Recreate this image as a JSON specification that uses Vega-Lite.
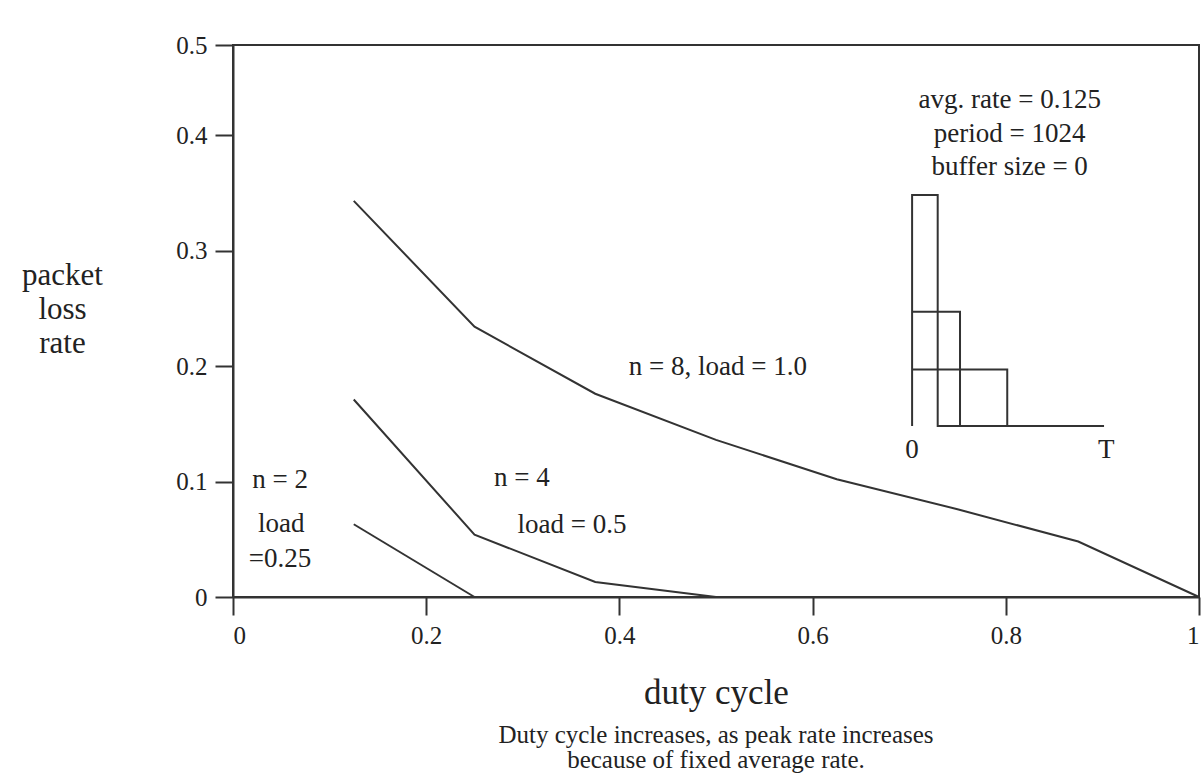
{
  "$schema": "https://vega.github.io/schema/vega-lite/v6.json",
  "width": 966,
  "height": 552,
  "autosize": {"type": "none"},
  "padding": {"left": 233, "top": 45, "right": 5, "bottom": 182},
  "background": "white",
  "config": {
    "font": "Liberation Serif",
    "view": {"stroke": "#333", "strokeWidth": 2},
    "axis": {"grid": false, "domainColor": "#333", "domainWidth": 2, "tickColor": "#333", "tickWidth": 2, "tickSize": 18, "labelFont": "Liberation Serif", "labelFontSize": 25, "labelColor": "#222", "titleFont": "Liberation Serif", "titleColor": "#222", "titleFontWeight": "normal"}
  },
  "title": {
    "text": ["Duty cycle increases, as peak rate increases", "because of fixed average rate."],
    "orient": "bottom",
    "anchor": "middle",
    "offset": 13,
    "font": "Liberation Serif",
    "fontSize": 25,
    "fontWeight": "normal",
    "lineHeight": 25,
    "color": "#222"
  },
  "datasets": {
    "curves": [
      {"series": "n=8", "duty": 0.125, "loss": 0.343},
      {"series": "n=8", "duty": 0.25, "loss": 0.234},
      {"series": "n=8", "duty": 0.375, "loss": 0.176},
      {"series": "n=8", "duty": 0.5, "loss": 0.136},
      {"series": "n=8", "duty": 0.625, "loss": 0.102},
      {"series": "n=8", "duty": 0.75, "loss": 0.076},
      {"series": "n=8", "duty": 0.875, "loss": 0.048},
      {"series": "n=8", "duty": 1.0, "loss": 0.0},
      {"series": "n=4", "duty": 0.125, "loss": 0.171},
      {"series": "n=4", "duty": 0.25, "loss": 0.054},
      {"series": "n=4", "duty": 0.375, "loss": 0.013},
      {"series": "n=4", "duty": 0.5, "loss": 0.0},
      {"series": "n=2", "duty": 0.125, "loss": 0.063},
      {"series": "n=2", "duty": 0.25, "loss": 0.0}
    ],
    "inset": [
      {"path": "p1", "ord": 1, "duty": 0.703, "loss": 0.148},
      {"path": "p1", "ord": 2, "duty": 0.703, "loss": 0.348},
      {"path": "p1", "ord": 3, "duty": 0.7295, "loss": 0.348},
      {"path": "p1", "ord": 4, "duty": 0.7295, "loss": 0.148},
      {"path": "p1", "ord": 5, "duty": 0.9017, "loss": 0.148},
      {"path": "p2", "ord": 1, "duty": 0.703, "loss": 0.247},
      {"path": "p2", "ord": 2, "duty": 0.7526, "loss": 0.247},
      {"path": "p2", "ord": 3, "duty": 0.7526, "loss": 0.148},
      {"path": "p3", "ord": 1, "duty": 0.703, "loss": 0.197},
      {"path": "p3", "ord": 2, "duty": 0.8015, "loss": 0.197},
      {"path": "p3", "ord": 3, "duty": 0.8015, "loss": 0.148}
    ],
    "labels": [
      {"duty": 0.502, "loss": 0.199, "label": "n = 8, load = 1.0"},
      {"duty": 0.299, "loss": 0.103, "label": "n = 4"},
      {"duty": 0.351, "loss": 0.062, "label": "load = 0.5"},
      {"duty": 0.0487, "loss": 0.101, "label": "n = 2"},
      {"duty": 0.05, "loss": 0.063, "label": "load"},
      {"duty": 0.0487, "loss": 0.033, "label": "=0.25"},
      {"duty": 0.804, "loss": 0.439, "label": "avg. rate = 0.125"},
      {"duty": 0.804, "loss": 0.401, "label": "period = 1024"},
      {"duty": 0.804, "loss": 0.372, "label": "buffer size = 0"},
      {"duty": 0.703, "loss": 0.127, "label": "0"},
      {"duty": 0.904, "loss": 0.127, "label": "T"}
    ]
  },
  "encoding": {
    "x": {
      "field": "duty", "type": "quantitative",
      "scale": {"domain": [0, 1], "nice": false, "zero": false},
      "axis": {"values": [0, 0.2, 0.4, 0.6, 0.8, 1], "format": ".1~f", "labelPadding": 8, "title": "duty cycle", "titleFontSize": 35, "titlePadding": 27}
    },
    "y": {
      "field": "loss", "type": "quantitative",
      "scale": {"domain": [0, 0.4, 0.5], "range": [552, 90, 0], "nice": false, "zero": false},
      "axis": {"values": [0, 0.1, 0.2, 0.3, 0.4, 0.5], "format": ".1~f", "labelPadding": 8, "title": ["packet", "loss", "rate"], "titleAngle": 0, "titleAlign": "center", "titleBaseline": "middle", "titleX": -171, "titleY": 230, "titleFontSize": 31, "titleLineHeight": 34}
    }
  },
  "layer": [
    {
      "data": {"name": "curves"},
      "mark": {"type": "line", "color": "#333", "strokeWidth": 2},
      "encoding": {"detail": {"field": "series"}}
    },
    {
      "data": {"name": "inset"},
      "mark": {"type": "line", "color": "#333", "strokeWidth": 2},
      "encoding": {"detail": {"field": "path"}, "order": {"field": "ord", "type": "quantitative"}}
    },
    {
      "data": {"name": "labels"},
      "mark": {"type": "text", "font": "Liberation Serif", "fontSize": 27, "color": "#222", "align": "center", "baseline": "middle"},
      "encoding": {"text": {"field": "label"}}
    }
  ]
}
